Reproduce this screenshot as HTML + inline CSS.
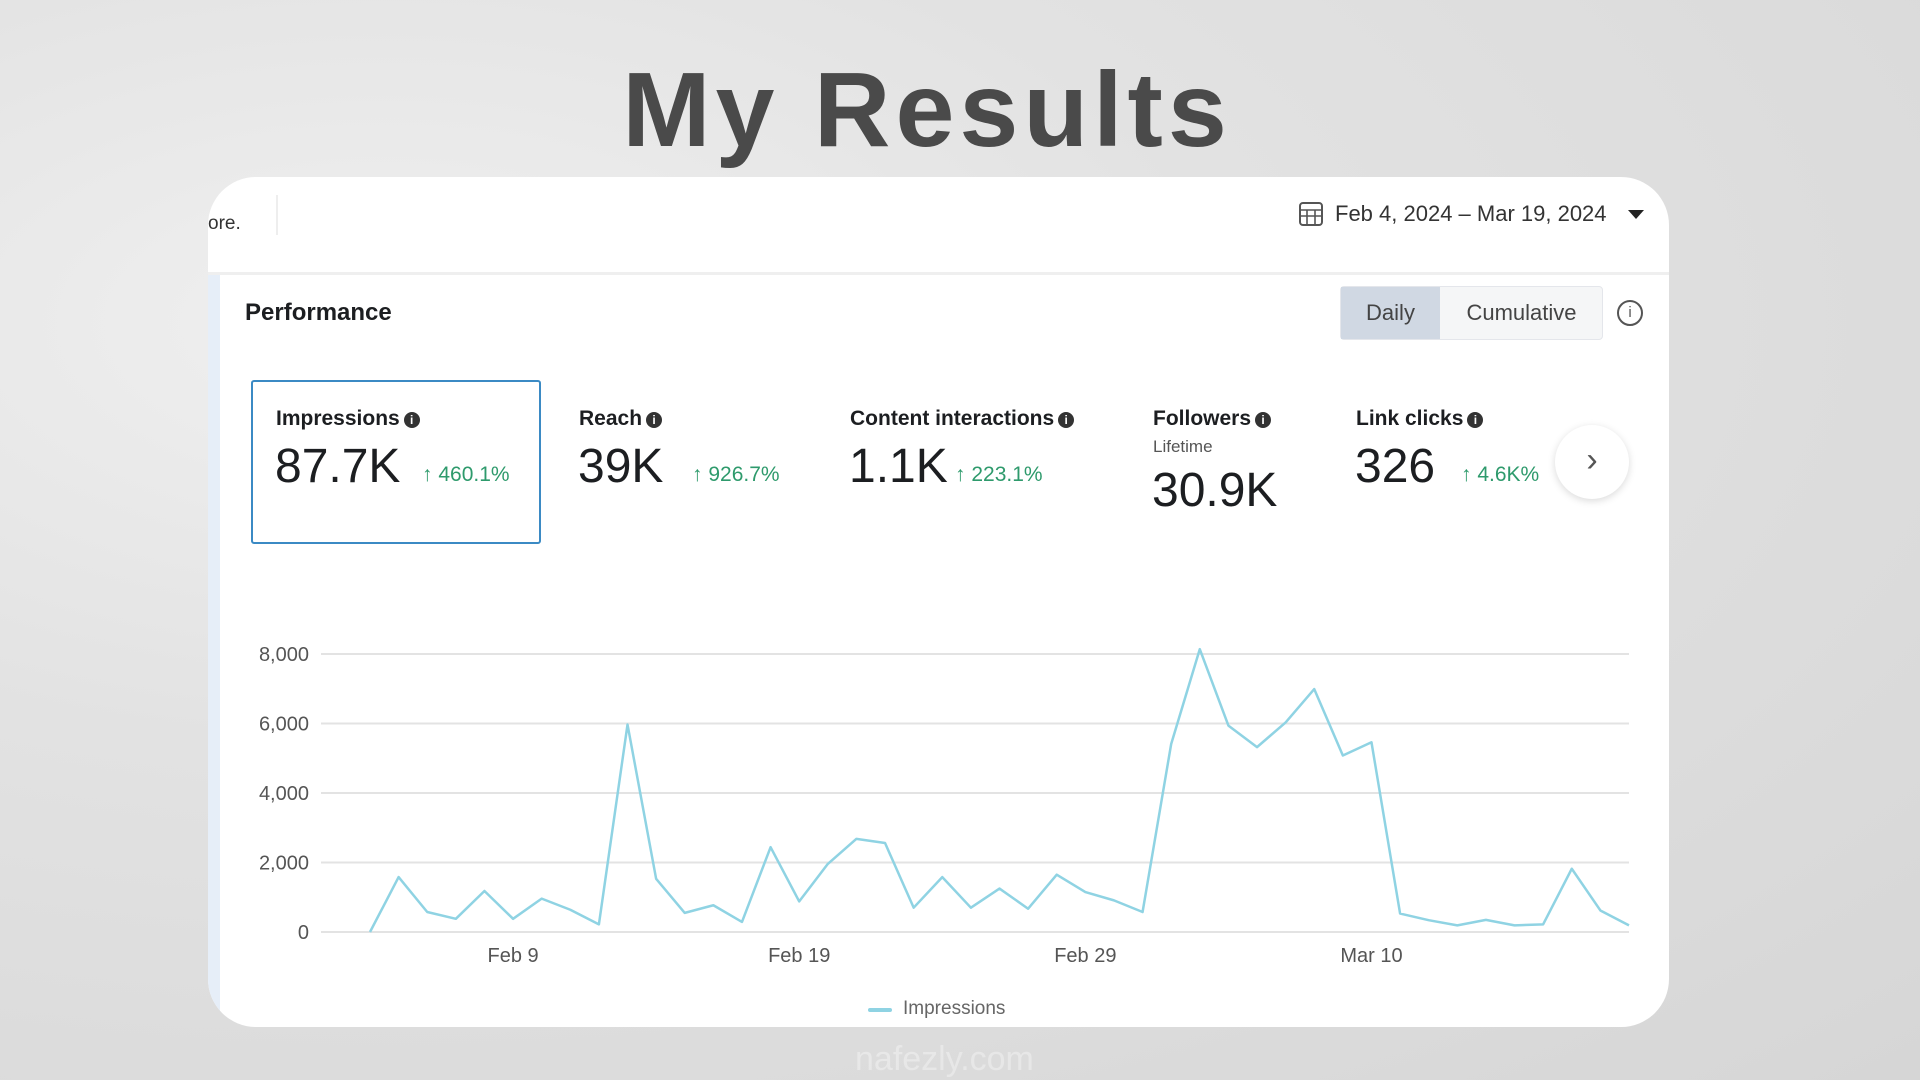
<!DOCTYPE html>
<html><head><meta charset="utf-8">
<style>
*{margin:0;padding:0;box-sizing:border-box}
body{width:1920px;height:1080px;overflow:hidden;position:relative;font-family:"Liberation Sans",sans-serif;
background:radial-gradient(ellipse at 20% 30%,#f0f0f0 0%,#e2e2e2 40%,#d6d6d6 100%);}
.abs{position:absolute}
#title{left:0;width:1854px;top:50px;text-align:center;font-size:106px;font-weight:bold;color:#4a4a4a;letter-spacing:5px}
#card{left:208px;top:177px;width:1461px;height:850px;background:#fff;border-radius:48px;overflow:hidden}
.lbl{font-size:21px;font-weight:bold;color:#1c1e21;white-space:nowrap}
.val{font-size:48px;color:#1c1e21;white-space:nowrap}
.pct{font-size:21px;color:#2e9a6c;white-space:nowrap}
.i{display:inline-block;width:16px;height:16px;border-radius:50%;background:#333;color:#fff;font-size:12px;text-align:center;line-height:16px;vertical-align:1px;margin-left:4px;font-weight:bold}
</style></head><body>
<div id="title" class="abs">My Results</div>
<div id="card" class="abs">
  <div class="abs" style="left:0;top:36px;font-size:19px;color:#333">ore.</div>
  <div class="abs" style="left:68px;top:18px;width:2px;height:40px;background:#eee"></div>
  <div class="abs" style="left:0;top:95px;width:1461px;height:3px;background:#efefef"></div>
  <div class="abs" style="left:0;top:98px;width:12px;height:752px;background:#e6eef8"></div>
  <svg class="abs" style="left:1090px;top:24px" width="26" height="26"><rect x="2" y="2" width="22" height="22" rx="3" fill="none" stroke="#555" stroke-width="2"/><path d="M2 9H24M2 15H24M9 9V24M17 9V24" stroke="#555" stroke-width="1.6"/></svg>
  <div class="abs" style="left:1127px;top:24px;font-size:22px;color:#333">Feb 4, 2024 – Mar 19, 2024</div>
  <div class="abs" style="left:1420px;top:33px;width:0;height:0;border-left:8px solid transparent;border-right:8px solid transparent;border-top:9px solid #222"></div>
  <div class="abs" style="left:37px;top:122px;font-size:24px;font-weight:bold;color:#1c1e21">Performance</div>
  <div class="abs" style="left:1132px;top:109px;width:263px;height:54px;border:1px solid #e4e6eb;border-radius:4px;background:#f5f6f7">
    <div class="abs" style="left:0;top:0;width:99px;height:52px;background:#d0d8e3;text-align:center;line-height:52px;font-size:22px;color:#444">Daily</div>
    <div class="abs" style="left:99px;top:0;width:163px;height:52px;text-align:center;line-height:52px;font-size:22px;color:#444">Cumulative</div>
  </div>
  <div class="abs" style="left:1409px;top:123px;width:26px;height:26px;border:2px solid #555;border-radius:50%;text-align:center;font-size:15px;line-height:22px;color:#555">i</div>
  <div class="abs" style="left:43px;top:203px;width:290px;height:164px;border:2px solid #3b8ac4;border-radius:3px"></div>
  <div class="abs lbl" style="left:68px;top:230px">Impressions<span class="i">i</span></div>
  <div class="abs val" style="left:67px;top:262px">87.7K</div>
  <div class="abs pct" style="left:214px;top:286px">↑ 460.1%</div>
  <div class="abs lbl" style="left:371px;top:230px">Reach<span class="i">i</span></div>
  <div class="abs val" style="left:370px;top:262px">39K</div>
  <div class="abs pct" style="left:484px;top:286px">↑ 926.7%</div>
  <div class="abs lbl" style="left:642px;top:230px">Content interactions<span class="i">i</span></div>
  <div class="abs val" style="left:641px;top:262px">1.1K</div>
  <div class="abs pct" style="left:747px;top:286px">↑ 223.1%</div>
  <div class="abs lbl" style="left:945px;top:230px">Followers<span class="i">i</span></div>
  <div class="abs" style="left:945px;top:260px;font-size:17px;color:#555">Lifetime</div>
  <div class="abs val" style="left:944px;top:286px">30.9K</div>
  <div class="abs lbl" style="left:1148px;top:230px">Link clicks<span class="i">i</span></div>
  <div class="abs val" style="left:1147px;top:262px">326</div>
  <div class="abs pct" style="left:1253px;top:286px">↑ 4.6K%</div>
  <div class="abs" style="left:1347px;top:248px;width:74px;height:74px;border-radius:50%;background:#fff;box-shadow:0 2px 8px rgba(0,0,0,.15);text-align:center;line-height:70px;font-size:34px;color:#555">›</div>
</div>
<svg id="chart" class="abs" style="left:0;top:0" width="1920" height="1080"></svg>
<div class="abs" style="left:868px;top:1008px;width:24px;height:4px;background:#8fd3e3;border-radius:2px"></div>
<div class="abs" style="left:903px;top:998px;font-size:19px;color:#666">Impressions</div>
<div class="abs" style="left:855px;top:1040px;font-size:34px;color:rgba(255,255,255,.35)">nafezly.com</div>
<script>
const values=[0,1580,575,380,1180,380,960,640,220,5970,1530,550,770,290,2440,880,1960,2680,2560,700,1580,700,1250,670,1650,1150,910,575,5410,8140,5940,5320,6030,6990,5080,5460,530,340,190,350,190,220,1820,620,190];
const yTicks=[0,2000,4000,6000,8000];
const xTickIdx=[5,15,25,35];
const xTickLabels=["Feb 9","Feb 19","Feb 29","Mar 10"];
const svg=document.getElementById('chart');const NS='http://www.w3.org/2000/svg';
const x0=370,x1=1629,yBase=932,yTop=654;
const X=i=>x0+(x1-x0)*i/(values.length-1);
const Y=v=>yBase-(yBase-yTop)*v/8000;
function mk(t,a){const e=document.createElementNS(NS,t);for(const k in a)e.setAttribute(k,a[k]);svg.appendChild(e);return e;}
yTicks.forEach(v=>{
  const g=mk('line',{x1:321,x2:1629,y1:Y(v),y2:Y(v),stroke:'#e3e3e3','stroke-width':2});
  
  
  const t=mk('text',{x:309,y:Y(v)+7,'text-anchor':'end','font-size':20,fill:'#555','font-family':'Liberation Sans, sans-serif'});
  t.textContent=v.toLocaleString('en-US');
  
  
});
xTickIdx.forEach((i,k)=>{
  const t=mk('text',{x:X(i),y:962,'text-anchor':'middle','font-size':20,fill:'#555','font-family':'Liberation Sans, sans-serif'});
  t.textContent=xTickLabels[k];
  
  
});
const p=mk('polyline',{points:values.map((v,i)=>X(i)+','+Y(v)).join(' '),fill:'none',stroke:'#8fd3e3','stroke-width':2.5,'stroke-linejoin':'round'});


</script>
</body></html>
